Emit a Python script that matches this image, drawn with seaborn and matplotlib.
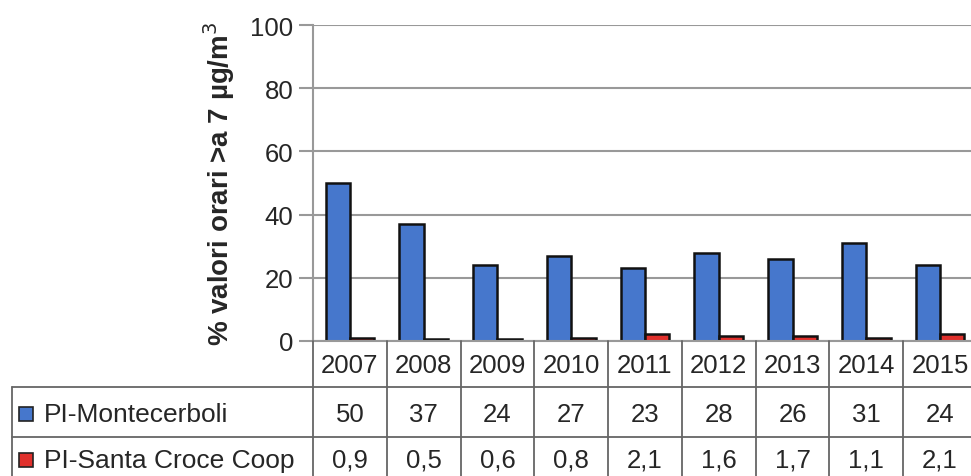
import numpy as np
import pandas as pd
import matplotlib
matplotlib.use('Agg')
import matplotlib.pyplot as plt
import seaborn as sns
from matplotlib.patches import Rectangle
from matplotlib.lines import Line2D

# dati
anni = ['2007', '2008', '2009', '2010', '2011', '2012', '2013', '2014', '2015']
montecerboli = [50, 37, 24, 27, 23, 28, 26, 31, 24]
santa_croce = [0.9, 0.5, 0.6, 0.8, 2.1, 1.6, 1.7, 1.1, 2.1]
stazioni = ['PI-Montecerboli', 'PI-Santa Croce Coop']
colori = ['#4677cc', '#e0302c']

df = pd.DataFrame({
    'anno': anni * 2,
    'valore': montecerboli + santa_croce,
    'stazione': [stazioni[0]] * len(anni) + [stazioni[1]] * len(anni),
})

sns.set_style('white')
plt.rcParams['font.family'] = ['Liberation Sans', 'DejaVu Sans']

W, H = 971, 477
fig = plt.figure(figsize=(W / 100, H / 100), dpi=100)

# posizione assi in pixel (l'ultima colonna esce dal bordo come nell'originale)
x0, x1, y_top, y_bot = 313, 977, 26, 342
ax = fig.add_axes([x0 / W, 1 - y_bot / H, (x1 - x0) / W, (y_bot - y_top) / H])

sns.barplot(data=df, x='anno', y='valore', hue='stazione', order=anni,
            hue_order=stazioni, palette=colori, saturation=1, width=0.66,
            dodge=True, edgecolor='#111111', linewidth=1.8, legend=False, ax=ax)

ax.set_xlim(-0.5, len(anni) - 0.5)
ax.set_ylim(0, 100)
ax.set_yticks([0, 20, 40, 60, 80, 100])
ax.yaxis.grid(True, color='#999999', linewidth=1.5)
ax.set_axisbelow(True)
ax.tick_params(axis='y', which='both', left=True, length=10, width=1.5,
               color='#999999', labelsize=18.5, pad=4)
ax.set_xticks([])
ax.set_xlabel('')
ax.set_ylabel('% valori orari >a 7 µg/m$^3$', fontsize=20, fontweight='bold',
              labelpad=10)
for s in ['top', 'right']:
    ax.spines[s].set_visible(False)
for s in ['left', 'bottom']:
    ax.spines[s].set_color('#999999')
    ax.spines[s].set_linewidth(1.5)


def fx(x):
    return x / W


def fy(y):
    return 1 - y / H


def linea(xa, ya, xb, yb):
    fig.add_artist(Line2D([fx(xa), fx(xb)], [fy(ya), fy(yb)],
                          color='#666666', linewidth=1.3))


# tabella dati sotto il grafico
col_w = (x1 - x0) / len(anni)
r1, r2 = 388, 438
linea(12, r1, W, r1)
linea(12, r2, W, r2)
linea(12, r1, 12, H)
for i in range(len(anni) + 1):
    xl = x0 + i * col_w
    linea(xl, y_bot, xl, H)

for i, anno in enumerate(anni):
    xc = fx(x0 + (i + 0.5) * col_w)
    fig.text(xc, fy(366), anno, ha='center', va='center', fontsize=18.5)
    fig.text(xc, fy(415), f'{montecerboli[i]:g}'.replace('.', ','),
             ha='center', va='center', fontsize=18.5)
    fig.text(xc, fy(461), f'{santa_croce[i]:g}'.replace('.', ','),
             ha='center', va='center', fontsize=18.5)

for nome, col, yc in zip(stazioni, colori, [415, 461]):
    fig.add_artist(Rectangle((fx(19), fy(yc + 7)), 14 / W, 14 / H,
                             facecolor=col, edgecolor='#222222', linewidth=1.2))
    fig.text(fx(44), fy(yc), nome, ha='left', va='center', fontsize=19)

fig.savefig('out.png', dpi=100)
